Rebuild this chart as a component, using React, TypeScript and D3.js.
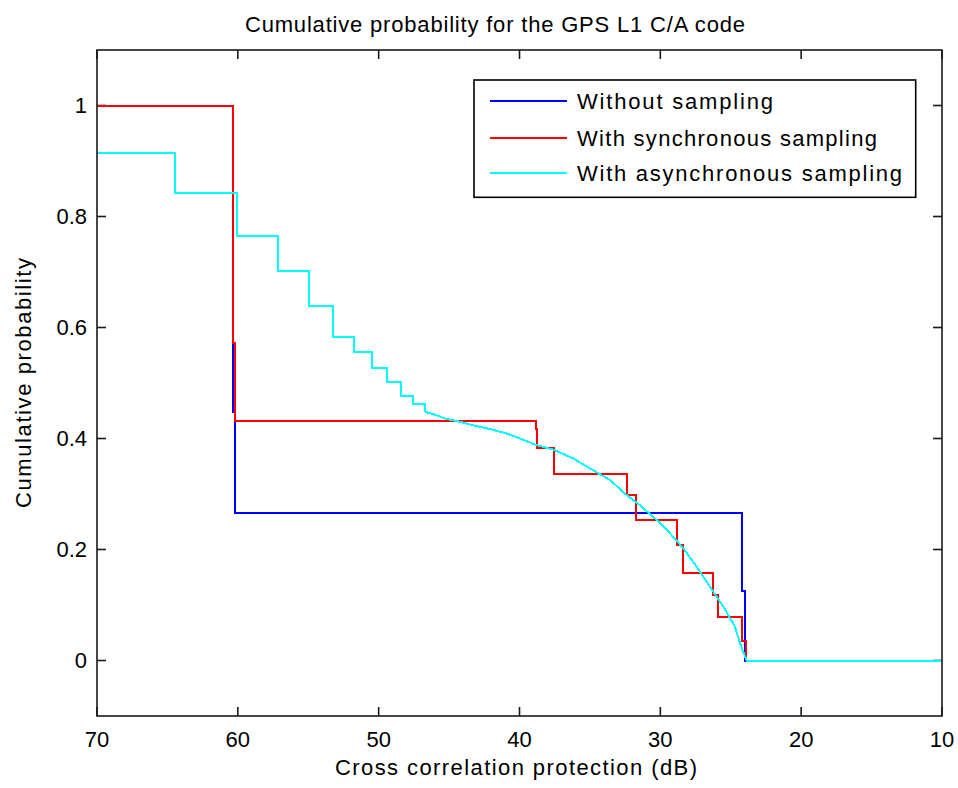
import React from "react";
import * as d3 from "d3";

const xTicks = [70, 60, 50, 40, 30, 20, 10];
const yTicks = [0, 0.2, 0.4, 0.6, 0.8, 1];

const blueX = [70, 60.32, 60.2, 24.22, 23.98, 10];
const blueY = [1, 0.448, 0.266, 0.125, 0, 0];

const redX = [70, 60.32, 60.2, 38.85, 38.74, 37.55, 32.39, 31.73, 28.8, 28.37, 26.28, 25.93, 24.22, 23.94];
const redY = [1, 0.572, 0.431, 0.418, 0.383, 0.336, 0.298, 0.253, 0.208, 0.157, 0.118, 0.078, 0.035, 0];

const cyanStepX = [70, 64.46, 60.08, 57.13, 54.92, 53.22, 51.75, 50.49, 49.38, 48.42, 47.59, 46.71];
const cyanStepY = [0.915, 0.842, 0.764, 0.702, 0.639, 0.582, 0.555, 0.527, 0.502, 0.477, 0.463, 0.448];
const cyanSmoothX = [46.71, 46.12, 45.29, 44.22, 43.16, 42.09, 40.91, 39.96, 38.9, 37.6, 36.18, 34.52, 33.57, 32.39, 31.45, 30.26, 29.31, 28.37, 27.42, 26.47, 25.53, 24.7, 24.34, 23.87, 10];
const cyanSmoothY = [0.448, 0.444, 0.436, 0.43, 0.423, 0.417, 0.409, 0.4, 0.389, 0.38, 0.364, 0.339, 0.325, 0.298, 0.28, 0.253, 0.229, 0.202, 0.169, 0.133, 0.097, 0.061, 0.031, 0, 0];

const legendLabels = ["Without sampling", "With synchronous sampling", "With asynchronous sampling"];
const legendColors = ["#0000ff", "#ff0000", "#00ffff"];

const W = 958, H = 788;
const L = 97, R = 942, T = 50, B = 716;
const FONT = "'Liberation Sans', Arial, sans-serif";

export default function App() {
  const x = d3.scaleLinear().domain([70, 10]).range([L, R]);
  const y = d3.scaleLinear().domain([-0.1, 1.1]).range([B, T]);
  const zip = (xs: number[], ys: number[]) => xs.map((v, i) => [v, ys[i]] as [number, number]);
  const stepLine = d3.line<[number, number]>().x(d => x(d[0])).y(d => y(d[1])).curve(d3.curveStepAfter);
  const linLine = d3.line<[number, number]>().x(d => x(d[0])).y(d => y(d[1]));
  const axisColor = "#1a1a1a";
  const tickLen = 9;
  return (
    <svg width={W} height={H} style={{ position: "fixed", left: 0, top: 0, background: "#fff" }} fontFamily={FONT}>
      <rect x={0} y={0} width={W} height={H} fill="#fff" />
      <text x={495} y={32} fontSize={22} textAnchor="middle" textLength={500} lengthAdjust="spacing" fill="#000">
        Cumulative probability for the GPS L1 C/A code
      </text>
      {xTicks.map(t => (
        <g key={"x" + t}>
          <line x1={x(t)} x2={x(t)} y1={B} y2={B - tickLen} stroke={axisColor} strokeWidth={1.6} />
          <line x1={x(t)} x2={x(t)} y1={T} y2={T + tickLen} stroke={axisColor} strokeWidth={1.6} />
          <text x={x(t)} y={747} fontSize={22} textAnchor="middle" fill="#000">{t}</text>
        </g>
      ))}
      {yTicks.map(t => (
        <g key={"y" + t}>
          <line x1={L} x2={L + tickLen} y1={y(t)} y2={y(t)} stroke={axisColor} strokeWidth={1.6} />
          <line x1={R} x2={R - tickLen} y1={y(t)} y2={y(t)} stroke={axisColor} strokeWidth={1.6} />
          <text x={87} y={y(t)} dy="0.36em" fontSize={22} textAnchor="end" fill="#000">{t}</text>
        </g>
      ))}
      <path d={stepLine(zip(blueX, blueY)) || ""} fill="none" stroke="#0000ff" strokeWidth={2} shapeRendering="crispEdges" />
      <path d={stepLine(zip(redX, redY)) || ""} fill="none" stroke="#ff0000" strokeWidth={2} shapeRendering="crispEdges" />
      <path d={stepLine(zip(cyanStepX, cyanStepY)) || ""} fill="none" stroke="#00ffff" strokeWidth={2} shapeRendering="crispEdges" />
      <path d={linLine(zip(cyanSmoothX, cyanSmoothY)) || ""} fill="none" stroke="#00ffff" strokeWidth={2} shapeRendering="crispEdges" />
      {/* axes box */}
      <rect x={L} y={T} width={R - L} height={B - T} fill="none" stroke={axisColor} strokeWidth={1.6} />
      <text x={516} y={775} fontSize={22} textAnchor="middle" textLength={362} lengthAdjust="spacing" fill="#000">
        Cross correlation protection (dB)
      </text>
      <text transform={`translate(31,${(T + B) / 2}) rotate(-90)`} fontSize={22} textAnchor="middle" textLength={250} lengthAdjust="spacing" fill="#000">
        Cumulative probability
      </text>
      {/* legend */}
      <rect x={474} y={80} width={441.7} height={117.3} fill="#fff" stroke="#000" strokeWidth={1.6} />
      {legendLabels.map((lab, i) => {
        const ly = [101, 138, 173][i];
        return (
          <g key={lab}>
            <line x1={490} x2={567} y1={ly} y2={ly} stroke={legendColors[i]} strokeWidth={2} shapeRendering="crispEdges" />
            <text x={577} y={ly} dy="0.36em" fontSize={22} fill="#000"
              textLength={[196, 300, 325][i]} lengthAdjust="spacing">{lab}</text>
          </g>
        );
      })}
    </svg>
  );
}
